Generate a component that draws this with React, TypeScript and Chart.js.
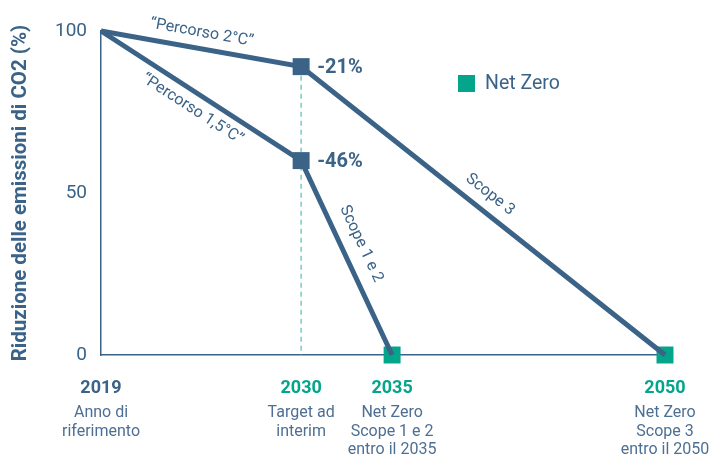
import React, { useEffect, useRef } from "react";
import { Chart, registerables } from "chart.js";

Chart.register(...registerables);

// ---- data ----
const years2C = [2019, 2030, 2050];
const values2C = [100, 89, 0];
const years15C = [2019, 2030, 2035];
const values15C = [100, 60, 0];
const interimYears = [2030, 2030];
const interimValues = [89, 60];
const interimLabels = ["-21%", "-46%"];
const netZeroYears = [2035, 2050];
const netZeroValues = [0, 0];
const xTickYears = [2019, 2030, 2035, 2050];
const xTickSubLabels = [
  ["Anno di", "riferimento"],
  ["Target ad", "interim"],
  ["Net Zero", "Scope 1 e 2", "entro il 2035"],
  ["Net Zero", "Scope 3", "entro il 2050"],
];
const yTicks = [0, 50, 100];
const yTitle = "Riduzione delle emissioni di CO2 (%)";
const legendLabel = "Net Zero";

const BLUE = "#3b6387";
const BLUE_LIGHT = "#4d6f93";
const TEAL = "#05a58b";
const TEAL_DASH = "#74cfbf";
const FONT = "Roboto, 'Open Sans', sans-serif";

type SegLabel = { xs: number[]; ys: number[]; i: number; j: number; text: string; t: number; d: number };
const segLabels: SegLabel[] = [
  { xs: years2C, ys: values2C, i: 0, j: 1, text: "\u201cPercorso 2°C\u201d", t: 0.49, d: -16 },
  { xs: years15C, ys: values15C, i: 0, j: 1, text: "\u201cPercorso 1,5°C\u201d", t: 0.5, d: 16 },
  { xs: years2C, ys: values2C, i: 1, j: 2, text: "Scope 3", t: 0.49, d: -17 },
  { xs: years15C, ys: values15C, i: 1, j: 2, text: "Scope 1 e 2", t: 0.47, d: -19 },
];

const annotPlugin = {
  id: "annot",
  beforeDatasetsDraw(chart: any) {
    const { ctx, scales, chartArea } = chart;
    const x = scales.x.getPixelForValue(2030);
    const yTop = scales.y.getPixelForValue(values2C[1]);
    ctx.save();
    ctx.strokeStyle = TEAL_DASH;
    ctx.lineWidth = 1.5;
    ctx.setLineDash([5, 4]);
    ctx.beginPath();
    ctx.moveTo(x, yTop);
    ctx.lineTo(x, chartArea.bottom);
    ctx.stroke();
    ctx.restore();
  },
  afterDatasetsDraw(chart: any) {
    const { ctx, scales, chartArea } = chart;
    const sx = scales.x, sy = scales.y;
    ctx.save();
    ctx.fillStyle = BLUE;
    ctx.font = `16px ${FONT}`;
    ctx.textAlign = "center";
    ctx.textBaseline = "middle";
    segLabels.forEach((s) => {
      const x1 = sx.getPixelForValue(s.xs[s.i]);
      const y1 = sy.getPixelForValue(s.ys[s.i]);
      const x2 = sx.getPixelForValue(s.xs[s.j]);
      const y2 = sy.getPixelForValue(s.ys[s.j]);
      const a = Math.atan2(y2 - y1, x2 - x1);
      const nx = -Math.sin(a), ny = Math.cos(a);
      const px = x1 + (x2 - x1) * s.t + nx * s.d;
      const py = y1 + (y2 - y1) * s.t + ny * s.d;
      ctx.save();
      ctx.translate(px, py);
      ctx.rotate(a);
      ctx.fillText(s.text, 0, 0);
      ctx.restore();
    });
    ctx.font = `bold 20px ${FONT}`;
    ctx.textAlign = "left";
    interimYears.forEach((yr, k) => {
      const px = sx.getPixelForValue(yr) + 16;
      const py = sy.getPixelForValue(interimValues[k]) + 1;
      ctx.fillText(interimLabels[k], px, py);
    });
    ctx.textAlign = "center";
    xTickYears.forEach((yr, k) => {
      const px = sx.getPixelForValue(yr);
      ctx.font = `bold 18px ${FONT}`;
      ctx.fillStyle = k === 0 ? BLUE : TEAL;
      ctx.fillText(String(yr), px, chartArea.bottom + 33);
      ctx.font = `16px ${FONT}`;
      ctx.fillStyle = BLUE_LIGHT;
      xTickSubLabels[k].forEach((line, li) => {
        ctx.fillText(line, px, chartArea.bottom + 58 + li * 18.5);
      });
    });
    ctx.fillStyle = TEAL;
    ctx.fillRect(458, 75, 17, 17);
    ctx.fillStyle = BLUE;
    ctx.font = `19.5px ${FONT}`;
    ctx.textAlign = "left";
    ctx.fillText(legendLabel, 485, 84.5);
    ctx.restore();
  },
};

export default function App() {
  const ref = useRef<HTMLCanvasElement>(null);
  useEffect(() => {
    if (!ref.current) return;
    const chart = new Chart(ref.current, {
      type: "line",
      data: {
        datasets: [
          {
            label: "Percorso 2°C",
            data: years2C.map((x, i) => ({ x, y: values2C[i] })),
            borderColor: BLUE,
            borderWidth: 5,
            pointRadius: 0,
            clip: false as any,
          },
          {
            label: "Percorso 1,5°C",
            data: years15C.map((x, i) => ({ x, y: values15C[i] })),
            borderColor: BLUE,
            borderWidth: 5,
            pointRadius: 0,
            clip: false as any,
          },
          {
            label: "Target ad interim",
            data: interimYears.map((x, i) => ({ x, y: interimValues[i] })),
            showLine: false,
            pointStyle: "rect",
            pointRadius: 12,
            pointBorderWidth: 0,
            backgroundColor: BLUE,
            borderColor: BLUE,
            clip: false as any,
          },
          {
            label: legendLabel,
            data: netZeroYears.map((x, i) => ({ x, y: netZeroValues[i] })),
            showLine: false,
            pointStyle: "rect",
            pointRadius: 12,
            pointBorderWidth: 0,
            backgroundColor: TEAL,
            borderColor: TEAL,
            clip: false as any,
          },
        ],
      },
      options: {
        animation: false,
        responsive: false,
        layout: { padding: { top: 31, right: 47, left: 0, bottom: 0 } },
        plugins: { legend: { display: false }, tooltip: { enabled: false } },
        scales: {
          x: {
            type: "linear",
            min: 2019,
            max: 2050,
            grid: { display: false, drawTicks: false },
            border: { display: true, color: BLUE, width: 1.5 },
            ticks: { display: false },
            afterFit: (s: any) => {
              s.height = 102;
            },
          },
          y: {
            min: 0,
            max: 100,
            grid: { display: false, drawTicks: false },
            border: { display: true, color: BLUE, width: 1.5 },
            afterBuildTicks: (s: any) => {
              s.ticks = yTicks.map((v) => ({ value: v }));
            },
            ticks: {
              color: BLUE,
              font: { family: FONT, size: 19 },
              padding: 14,
            },
            title: {
              display: true,
              text: yTitle,
              color: BLUE,
              font: { family: FONT, size: 20.5, weight: "bold" },
              padding: { top: 9, bottom: 0 },
            },
            afterFit: (s: any) => {
              s.width = 101;
            },
          },
        },
      },
      plugins: [annotPlugin],
    });
    return () => chart.destroy();
  }, []);
  return (
    <div style={{ position: "fixed", left: 0, top: 0, width: 712, height: 457, background: "#fff" }}>
      <canvas ref={ref} width={712} height={457} style={{ display: "block" }} />
    </div>
  );
}
